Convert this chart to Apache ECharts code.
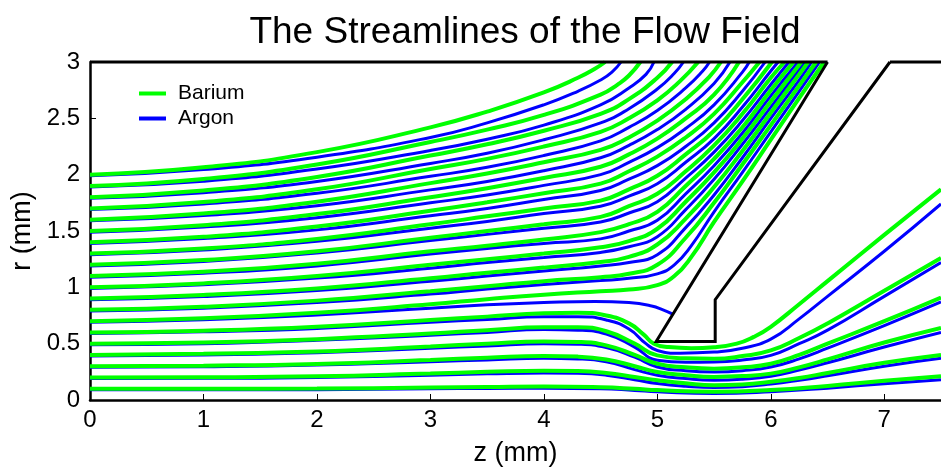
<!DOCTYPE html>
<html>
<head>
<meta charset="utf-8">
<script src="https://cdn.jsdelivr.net/npm/echarts@6/dist/echarts.min.js"></script>
<style>
html, body { margin: 0; padding: 0; background: #ffffff; }
#chart { width: 941px; height: 472px; }
</style>
</head>
<body>
<div id="chart"></div>
<script>
// Streamlines [z (mm), r (mm)] for barium (green) and argon (blue), numbered by inlet radius.
const ba01 = [[0,0.1],[1,0.1],[2,0.102],[3,0.11],[3.5,0.115],[4,0.12],[4.5,0.113],[4.8,0.1],[5,0.088],[5.5,0.073],[6,0.088],[6.5,0.125],[7,0.17],[7.5,0.21]];
const ar01 = [[0,0.09],[1,0.09],[2,0.092],[3,0.1],[3.5,0.103],[4,0.105],[4.5,0.1],[4.8,0.085],[5,0.073],[5.5,0.058],[6,0.073],[6.5,0.105],[7,0.145],[7.5,0.18]];
const ba02 = [[0,0.2],[1,0.202],[2,0.21],[3,0.235],[3.5,0.25],[4,0.26],[4.3,0.257],[4.55,0.24],[4.8,0.205],[5,0.176],[5.25,0.148],[5.5,0.132],[5.75,0.138],[6,0.161],[6.25,0.195],[6.5,0.24],[7,0.33],[7.5,0.4]];
const ar02 = [[0,0.19],[1,0.192],[2,0.2],[3,0.22],[3.5,0.232],[4,0.24],[4.3,0.237],[4.55,0.22],[4.8,0.18],[5,0.146],[5.25,0.122],[5.5,0.111],[5.75,0.118],[6,0.141],[6.25,0.175],[6.5,0.215],[7,0.3],[7.5,0.37]];
const ba03 = [[0,0.3],[1,0.305],[2,0.32],[3,0.355],[3.5,0.375],[4,0.39],[4.3,0.385],[4.55,0.36],[4.8,0.3],[5,0.249],[5.25,0.22],[5.5,0.205],[5.75,0.212],[6,0.234],[6.25,0.29],[6.5,0.36],[7,0.51],[7.5,0.64]];
const ar03 = [[0,0.29],[1,0.295],[2,0.31],[3,0.34],[3.5,0.355],[4,0.37],[4.3,0.365],[4.55,0.34],[4.8,0.27],[5,0.22],[5.25,0.19],[5.5,0.176],[5.75,0.185],[6,0.211],[6.25,0.265],[6.5,0.33],[7,0.47],[7.5,0.6]];
const ba04 = [[0,0.4],[1,0.41],[2,0.43],[3,0.475],[3.5,0.5],[4,0.52],[4.3,0.515],[4.55,0.485],[4.8,0.4],[5,0.322],[5.25,0.29],[5.5,0.278],[5.75,0.29],[6,0.322],[6.25,0.4],[6.5,0.5],[7,0.7],[7.5,0.91]];
const ar04 = [[0,0.39],[1,0.4],[2,0.42],[3,0.46],[3.5,0.48],[4,0.5],[4.3,0.495],[4.55,0.465],[4.8,0.38],[5,0.293],[5.25,0.26],[5.5,0.249],[5.75,0.26],[6,0.293],[6.25,0.365],[6.5,0.46],[7,0.66],[7.5,0.87]];
const ba05 = [[0,0.5],[1,0.51],[2,0.54],[3,0.59],[3.5,0.62],[4,0.645],[4.3,0.645],[4.55,0.61],[4.8,0.5],[5,0.396],[5.25,0.37],[5.5,0.366],[5.75,0.39],[6,0.44],[6.25,0.55],[6.5,0.68],[7,0.97],[7.5,1.26]];
const ar05 = [[0,0.49],[1,0.5],[2,0.53],[3,0.575],[3.5,0.6],[4,0.625],[4.3,0.62],[4.55,0.585],[4.8,0.47],[5,0.352],[5.25,0.335],[5.5,0.337],[5.75,0.355],[6,0.396],[6.25,0.5],[6.5,0.62],[7,0.92],[7.5,1.22]];
const ba06 = [[0,0.6],[1,0.615],[2,0.65],[3,0.71],[3.5,0.74],[4,0.77],[4.3,0.775],[4.55,0.75],[4.75,0.68],[4.88,0.58],[4.97,0.5],[5.1,0.47],[5.3,0.46],[5.5,0.468],[5.7,0.5],[5.85,0.56],[6,0.65],[6.25,0.85],[6.5,1.055],[7,1.466],[7.5,1.87]];
const ar06 = [[0,0.59],[1,0.605],[2,0.635],[3,0.69],[3.5,0.715],[4,0.74],[4.3,0.74],[4.55,0.71],[4.75,0.63],[4.9,0.5],[5,0.44],[5.2,0.415],[5.5,0.425],[5.75,0.46],[6,0.54],[6.25,0.72],[6.5,0.92],[7,1.32],[7.5,1.74]];
const ba07 = [[0,0.7],[1,0.725],[2,0.775],[3,0.85],[3.5,0.895],[4,0.935],[4.5,0.965],[4.75,0.98],[5,1.02],[5.15,1.1],[5.3,1.27],[5.5,1.58],[5.75,1.94],[6,2.31],[6.25,2.68],[6.47,3.0]];
const ar07 = [[0,0.69],[1,0.713],[2,0.755],[3,0.815],[3.5,0.845],[4,0.865],[4.45,0.875],[4.75,0.865],[4.95,0.835],[5.05,0.8],[5.14,0.76]];
const ba08 = [[0,0.8],[1,0.828],[2,0.882],[3,0.965],[3.5,1.01],[4,1.055],[4.5,1.09],[4.75,1.12],[5,1.2],[5.25,1.44],[5.5,1.75],[5.75,2.09],[6,2.44],[6.25,2.79],[6.4,3.0]];
const ar08 = [[0,0.79],[1,0.815],[2,0.865],[3,0.94],[3.5,0.985],[4,1.025],[4.5,1.06],[4.75,1.08],[5,1.12],[5.15,1.2],[5.3,1.37],[5.5,1.67],[5.75,2.02],[6,2.38],[6.25,2.74],[6.43,3.0]];
const ba09 = [[0,0.9],[1,0.932],[2,0.99],[3,1.08],[3.5,1.13],[4,1.175],[4.5,1.225],[4.75,1.27],[5,1.38],[5.25,1.61],[5.5,1.89],[5.75,2.21],[6,2.55],[6.25,2.89],[6.33,3.0]];
const ar09 = [[0,0.89],[1,0.918],[2,0.972],[3,1.055],[3.5,1.1],[4,1.145],[4.5,1.19],[4.75,1.22],[5,1.29],[5.25,1.53],[5.5,1.82],[5.75,2.15],[6,2.5],[6.25,2.84],[6.36,3.0]];
const ba10 = [[0,1.0],[1,1.035],[2,1.1],[3,1.2],[3.5,1.25],[4,1.3],[4.5,1.355],[4.75,1.41],[5,1.52],[5.25,1.76],[5.5,2.02],[5.75,2.32],[6,2.65],[6.27,3.0]];
const ar10 = [[0,0.99],[1,1.022],[2,1.082],[3,1.17],[3.5,1.22],[4,1.265],[4.5,1.31],[4.75,1.36],[5,1.45],[5.25,1.69],[5.5,1.96],[5.75,2.27],[6,2.6],[6.3,3.0]];
const ba11 = [[0,1.1],[1,1.138],[2,1.21],[3,1.32],[3.5,1.37],[4,1.425],[4.5,1.49],[4.75,1.56],[5,1.67],[5.25,1.9],[5.5,2.14],[5.75,2.42],[6,2.75],[6.2,3.0]];
const ar11 = [[0,1.09],[1,1.125],[2,1.19],[3,1.295],[3.5,1.345],[4,1.39],[4.5,1.43],[4.75,1.5],[5,1.595],[5.25,1.83],[5.5,2.08],[5.75,2.37],[6,2.7],[6.24,3.0]];
const ba12 = [[0,1.2],[1,1.242],[2,1.32],[3,1.44],[3.5,1.5],[4,1.56],[4.5,1.625],[4.75,1.72],[5,1.83],[5.25,2.03],[5.5,2.26],[5.75,2.54],[6,2.86],[6.12,3.0]];
const ar12 = [[0,1.19],[1,1.23],[2,1.305],[3,1.415],[3.5,1.47],[4,1.525],[4.5,1.58],[4.75,1.66],[5,1.76],[5.25,1.97],[5.5,2.2],[5.75,2.48],[6,2.8],[6.16,3.0]];
const ba13 = [[0,1.3],[1,1.345],[2,1.43],[3,1.56],[3.5,1.63],[4,1.7],[4.5,1.77],[4.75,1.87],[5,1.99],[5.25,2.18],[5.5,2.39],[5.75,2.67],[6.01,3.0]];
const ar13 = [[0,1.29],[1,1.332],[2,1.408],[3,1.525],[3.5,1.585],[4,1.655],[4.5,1.72],[4.75,1.81],[5,1.92],[5.25,2.11],[5.5,2.32],[5.75,2.6],[6,2.92],[6.065,3.0]];
const ba14 = [[0,1.4],[1,1.448],[2,1.54],[3,1.68],[3.5,1.755],[4,1.835],[4.5,1.92],[4.75,2.03],[5,2.16],[5.25,2.33],[5.5,2.54],[5.75,2.82],[5.9,3.0]];
const ar14 = [[0,1.39],[1,1.433],[2,1.51],[3,1.635],[3.5,1.7],[4,1.78],[4.5,1.86],[4.75,1.96],[5,2.08],[5.25,2.25],[5.5,2.46],[5.75,2.74],[5.95,3.0]];
const ba15 = [[0,1.5],[1,1.552],[2,1.65],[3,1.8],[3.5,1.88],[4,1.97],[4.5,2.07],[4.75,2.18],[5,2.32],[5.25,2.5],[5.5,2.71],[5.72,3.0]];
const ar15 = [[0,1.49],[1,1.535],[2,1.618],[3,1.75],[3.5,1.82],[4,1.905],[4.5,2.0],[4.75,2.11],[5,2.24],[5.25,2.41],[5.5,2.62],[5.75,2.91],[5.81,3.0]];
const ba16 = [[0,1.6],[1,1.655],[2,1.76],[3,1.925],[3.5,2.01],[4,2.11],[4.5,2.22],[4.75,2.33],[5,2.48],[5.25,2.67],[5.45,2.86],[5.56,3.0]];
const ar16 = [[0,1.59],[1,1.638],[2,1.725],[3,1.865],[3.5,1.94],[4,2.035],[4.5,2.15],[4.75,2.26],[5,2.4],[5.25,2.58],[5.5,2.81],[5.64,3.0]];
const ba17 = [[0,1.7],[1,1.758],[2,1.87],[3,2.05],[3.5,2.14],[4,2.25],[4.5,2.38],[4.75,2.5],[5,2.66],[5.2,2.83],[5.36,3.0]];
const ar17 = [[0,1.69],[1,1.74],[2,1.835],[3,1.985],[3.5,2.065],[4,2.17],[4.5,2.3],[4.75,2.42],[5,2.57],[5.25,2.77],[5.4,2.92],[5.46,3.0]];
const ba18 = [[0,1.8],[1,1.86],[2,1.98],[3,2.17],[3.5,2.27],[4,2.39],[4.5,2.54],[4.75,2.67],[5,2.86],[5.13,3.0]];
const ar18 = [[0,1.79],[1,1.84],[2,1.94],[3,2.1],[3.5,2.19],[4,2.31],[4.5,2.46],[4.75,2.585],[5,2.76],[5.15,2.9],[5.23,3.0]];
const ba19 = [[0,1.9],[1,1.962],[2,2.09],[3,2.29],[3.5,2.4],[4,2.53],[4.5,2.71],[4.65,2.8],[4.75,2.88],[4.85,3.0]];
const ar19 = [[0,1.89],[1,1.942],[2,2.05],[3,2.215],[3.5,2.315],[4,2.44],[4.5,2.62],[4.75,2.77],[4.9,2.89],[4.97,3.0]];
const ba20 = [[0,2.0],[1,2.065],[2,2.2],[3,2.42],[3.5,2.56],[4,2.73],[4.3,2.86],[4.45,2.94],[4.54,3.0]];
const ar20 = [[0,1.99],[1,2.045],[2,2.155],[3,2.33],[3.5,2.46],[4,2.62],[4.3,2.74],[4.5,2.84],[4.6,2.91],[4.68,3.0]];

// Solid boundaries: skimmer wall and the upper edge of the domain
const skimmerWall = [[6.5,3.0],[4.99,0.52],[5.51,0.52],[5.51,0.89],[7.05,3.0]];
const upperEdgeLeft = [[0,3.0],[6.5,3.0]];
const upperEdgeRight = [[7.05,3.0],[7.5,3.0]];

const bariumLines = [ba01,ba02,ba03,ba04,ba05,ba06,ba07,ba08,ba09,ba10,ba11,ba12,ba13,ba14,ba15,ba16,ba17,ba18,ba19,ba20];
const argonLines = [ar01,ar02,ar03,ar04,ar05,ar06,ar07,ar08,ar09,ar10,ar11,ar12,ar13,ar14,ar15,ar16,ar17,ar18,ar19,ar20];

const FONT = "'Liberation Sans', Arial, sans-serif";
const GREEN = '#00ff00';
const BLUE = '#0000ff';

const series = [];
argonLines.forEach(function (d) {
  series.push({
    name: 'Argon', type: 'line', data: d, symbol: 'none', smooth: 0.5,
    lineStyle: { color: BLUE, width: 3 }, itemStyle: { color: BLUE },
    z: 2, silent: true
  });
});
bariumLines.forEach(function (d) {
  series.push({
    name: 'Barium', type: 'line', data: d, symbol: 'none', smooth: 0.5,
    lineStyle: { color: GREEN, width: 4 }, itemStyle: { color: GREEN },
    z: 3, silent: true
  });
});
[skimmerWall, upperEdgeLeft, upperEdgeRight].forEach(function (d) {
  series.push({
    name: 'wall', type: 'line', data: d, symbol: 'none', clip: false,
    lineStyle: { color: '#000000', width: 3, join: 'miter' },
    z: 4, silent: true
  });
});

const chart = echarts.init(document.getElementById('chart'), null, { renderer: 'canvas' });
chart.setOption({
  animation: false,
  backgroundColor: '#ffffff',
  title: {
    text: 'The Streamlines of the Flow Field',
    left: 520, top: 9, textAlign: 'center',
    textStyle: { fontFamily: FONT, fontSize: 37, fontWeight: 'normal', color: '#000' }
  },
  legend: {
    data: ['Barium', 'Argon'],
    orient: 'vertical', left: 134, top: 78,
    icon: 'rect', itemWidth: 27, itemHeight: 4, itemGap: 4,
    textStyle: { fontFamily: FONT, fontSize: 21, color: '#000', padding: [0, 0, 0, 7] }
  },
  grid: { left: 90, top: 62, width: 857, height: 341, containLabel: false },
  xAxis: {
    type: 'value', min: 0, max: 7.5, interval: 1,
    name: 'z (mm)', nameLocation: 'middle', nameGap: 40,
    nameTextStyle: { fontFamily: FONT, fontSize: 27, color: '#000' },
    axisLine: { lineStyle: { color: '#000', width: 2.5 } },
    axisTick: { inside: true, length: 6, lineStyle: { color: '#000', width: 1 } },
    axisLabel: { fontFamily: FONT, fontSize: 24, color: '#000', margin: 8, showMaxLabel: false },
    splitLine: { show: false }
  },
  yAxis: {
    type: 'value', min: 0, max: 3, interval: 0.5,
    name: 'r (mm)', nameLocation: 'middle', nameGap: 52, nameRotate: 90,
    nameTextStyle: { fontFamily: FONT, fontSize: 27, color: '#000' },
    axisLine: { lineStyle: { color: '#000', width: 2.5 } },
    axisTick: { inside: true, length: 6, lineStyle: { color: '#000', width: 1 } },
    axisLabel: { fontFamily: FONT, fontSize: 24, color: '#000', margin: 10 },
    splitLine: { show: false }
  },
  series: series
});
</script>
</body>
</html>
